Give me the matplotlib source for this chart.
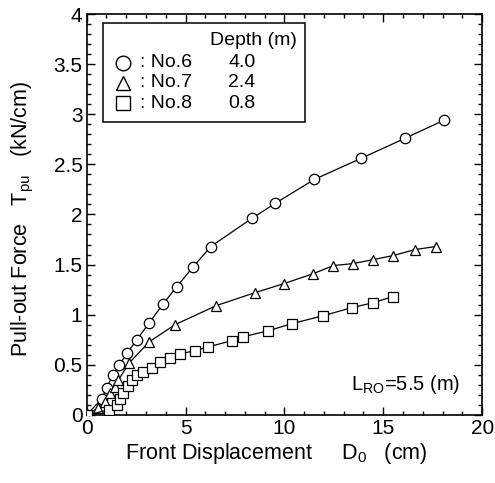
import numpy as np
import matplotlib
matplotlib.use('Agg')
import matplotlib.pyplot as plt
from matplotlib.patches import Rectangle
from matplotlib.ticker import MultipleLocator, FormatStrFormatter

plt.rcParams['font.family'] = ['Liberation Sans', 'DejaVu Sans']
plt.rcParams['mathtext.default'] = 'regular'

# No.6, depth 4.0 m (circles)
d_no6 = [0.0, 0.77, 1.02, 1.32, 1.66, 2.06, 2.54, 3.17, 3.88, 4.56, 5.40, 6.28,
         8.35, 9.53, 11.52, 13.88, 16.10, 18.07]
t_no6 = [0.0, 0.16, 0.27, 0.40, 0.50, 0.62, 0.75, 0.92, 1.11, 1.28, 1.48, 1.68,
         1.96, 2.11, 2.35, 2.56, 2.76, 2.94]
# No.7, depth 2.4 m (triangles)
d_no7 = [0.0, 0.60, 0.94, 1.19, 1.44, 1.61, 2.16, 3.17, 4.47, 6.55, 8.52, 9.98,
         11.47, 12.48, 13.49, 14.50, 15.51, 16.61, 17.67]
t_no7 = [0.0, 0.07, 0.13, 0.22, 0.28, 0.35, 0.52, 0.73, 0.90, 1.09, 1.22, 1.31,
         1.41, 1.49, 1.51, 1.55, 1.59, 1.65, 1.68]
# No.8, depth 0.8 m (squares)
d_no8 = [0.0, 1.15, 1.53, 1.69, 1.86, 2.11, 2.29, 2.54, 2.87, 3.30, 3.72, 4.22,
         4.73, 5.49, 6.16, 7.34, 7.93, 9.19, 10.37, 11.97, 13.41, 14.50, 15.48]
t_no8 = [0.0, 0.05, 0.10, 0.16, 0.22, 0.29, 0.35, 0.40, 0.43, 0.47, 0.53, 0.57,
         0.61, 0.64, 0.68, 0.74, 0.78, 0.84, 0.91, 0.99, 1.07, 1.12, 1.18]

names = [': No.6', ': No.7', ': No.8']
depths = ['4.0', '2.4', '0.8']
markers = ['o', '^', 's']
msizes = [7.5, 7.5, 7.5]

fig = plt.figure(figsize=(4.95, 4.83), dpi=100)
ax = fig.add_axes([0.175, 0.141, 0.799, 0.830])

series = [(d_no6, t_no6), (d_no7, t_no7), (d_no8, t_no8)]
for (d, t), m, ms in zip(series, markers, msizes):
    ax.plot(d, t, color='black', lw=0.9, marker=m, ms=ms,
            mfc='white', mec='black', mew=0.9, zorder=3)

# hand-made legend box
ax.add_patch(Rectangle((0.042, 0.731), 0.510, 0.247, transform=ax.transAxes,
                       fill=True, fc='white', ec='black', lw=1.1, zorder=4))
ax.text(0.421, 0.935, 'Depth (m)', transform=ax.transAxes, ha='center',
        va='center', fontsize=14, zorder=5)
row_y = [0.878, 0.828, 0.778]
for yy, n, dp, m in zip(row_y, names, depths, markers):
    ax.plot([0.092], [yy], transform=ax.transAxes, ls='none', marker=m,
            ms=10.5 if m == 'o' else 9.5, mfc='white', mec='black', mew=1.0,
            zorder=5, clip_on=False)
    ax.text(0.135, yy, n, transform=ax.transAxes, ha='left', va='center',
            fontsize=14, zorder=5)
    ax.text(0.393, yy, dp, transform=ax.transAxes, ha='center', va='center',
            fontsize=14, zorder=5)

ax.text(0.945, 0.075, 'L$_{RO}$=5.5 (m)', transform=ax.transAxes,
        ha='right', va='center', fontsize=14.5)

ax.set_xlim(0, 20)
ax.set_ylim(0, 4)
ax.xaxis.set_major_locator(MultipleLocator(5))
ax.xaxis.set_minor_locator(MultipleLocator(1))
ax.yaxis.set_major_locator(MultipleLocator(0.5))
ax.yaxis.set_minor_locator(MultipleLocator(0.1))
ax.yaxis.set_major_formatter(FormatStrFormatter('%g'))
ax.tick_params(which='both', direction='in', top=True, right=True,
               labelsize=15, width=1.0)
ax.tick_params(which='major', length=6, pad=3)
ax.tick_params(which='minor', length=3)
for s in ax.spines.values():
    s.set_linewidth(1.2)

ax.set_xlabel('Front Displacement     D$_0$   (cm)', fontsize=15.5)
ax.set_ylabel('Pull-out Force   T$_{pu}$   (kN/cm)', fontsize=15.5)
ax.xaxis.set_label_coords(0.479, -0.065)
ax.yaxis.set_label_coords(-0.128, 0.49)

fig.savefig('out.png', dpi=100)
